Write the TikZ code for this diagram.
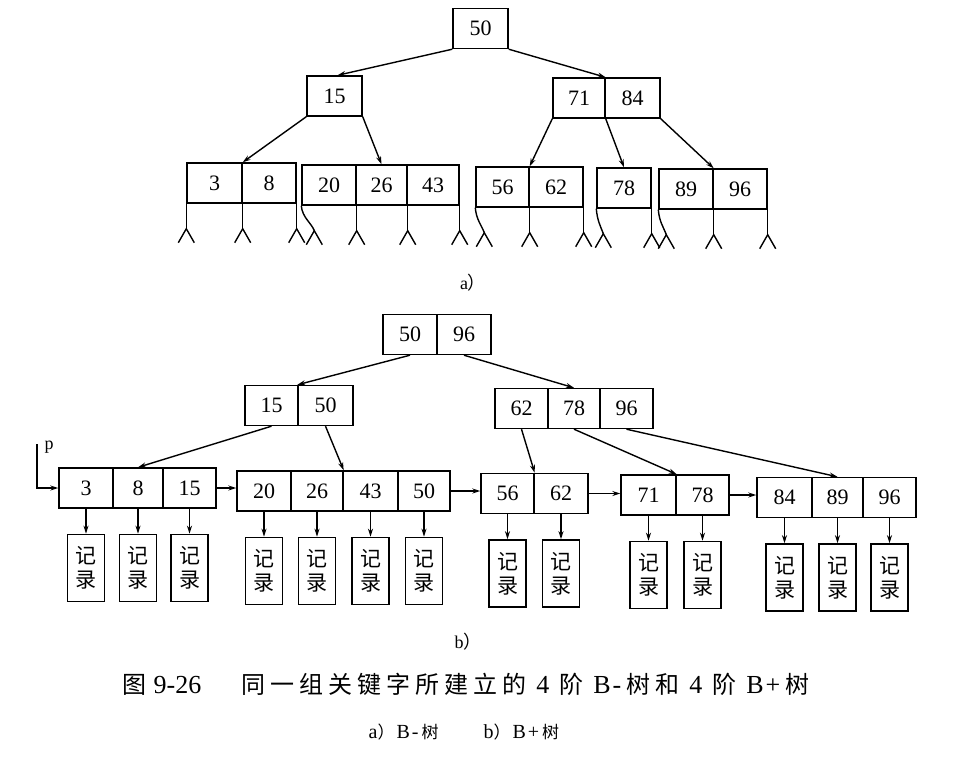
\documentclass[tikz,border=0pt]{standalone}
\usepackage{fontspec}
\setmainfont{Liberation Serif}
\newfontfamily\cjk{Noto Sans CJK SC}
\usetikzlibrary{arrows.meta,positioning,calc}
\newcommand\mynumfont{\fontsize{22}{22}\selectfont}
\newcommand\ks{\kern5pt}
\newcommand\gk{\kern10pt}
\newcommand\capcjk{\cjk\fontsize{24}{26}\selectfont}
\newcommand\subcjk{\cjk\fontsize{17}{19}\selectfont}
\begin{document}
\begin{tikzpicture}[x=1pt,y=-1pt,line width=1.4pt,
  cell/.style={draw,inner sep=0pt,minimum height=40pt,minimum width=#1,font=\mynumfont},
  rec/.style={draw,inner sep=0pt,minimum width=37pt,minimum height=67pt,align=center,
    font=\cjk\fontsize{21}{24}\selectfont},
  arr/.style={-{Stealth[length=8pt,width=5pt]}},
  fork/.pic={\draw (-8,14) -- (0,0) -- (8,14);},
  lbl/.style={font=\fontsize{18}{18}\selectfont}]
\useasboundingbox (0,0) rectangle (980,761);

% ---------------- part a ----------------
\node[cell=55pt] (a50) at (480.5,28.5) {50};
\node[cell=55pt] (a15) at (334.5,96) {15};
\node[cell=52pt] (a71) at (579,98) {71};
\node[cell=55pt] (a84) at (632.5,98) {84};

\node[cell=55pt] (A3) at (214.5,183) {3};
\node[cell=54pt] (A8) at (269,183) {8};
\node[cell=54pt] (B20) at (329,185) {20};
\node[cell=51pt] (B26) at (381.5,185) {26};
\node[cell=52pt] (B43) at (433,185) {43};
\node[cell=53pt] (C56) at (502.5,187) {56};
\node[cell=54pt] (C62) at (556,187) {62};
\node[cell=54pt] (D78) at (624,188) {78};
\node[cell=54pt] (E89) at (686,189) {89};
\node[cell=54pt] (E96) at (740,189) {96};

\draw[arr] (a50.south west) -- ($(a15.north)+(3,0)$);
\draw[arr] (a50.south east) -- (a71.north east);
\draw[arr] (a15.south west) -- (A3.north east);
\draw[arr] (a15.south east) -- (B26.north);
\draw[arr] (a71.south west) -- (C56.north east);
\draw[arr] (a71.south east) -- (D78.north);
\draw[arr] (a84.south east) -- (E89.north east);

% straight pointers with forks
\foreach \p in {A3.south west,A3.south east,A8.south east,
                B20.south east,B26.south east,B43.south east,
                C56.south east,C62.south east,
                D78.south east,
                E89.south east,E96.south east}{
  \draw (\p) -- ++(0,25) pic{fork};
}
% curved left pointers with forks
\foreach \n/\dx in {B20/13,C56/9,D78/7,E89/8}{
  \coordinate (t) at (\n.south west);
  \coordinate (h) at ($(t)+(\dx,25)$);
  \draw (t) .. controls ($(t)+(1,12)$) and ($(h)+(-3,-8)$) .. (h) pic{fork};
}
\node[lbl] (la) at (473,283) {a{\cjk ）}};

% ---------------- part b ----------------
\node[cell=54pt] (R50) at (410,334.5) {50};
\node[cell=54pt] (R96) at (464,334.5) {96};
\node[cell=53pt] (P15) at (271.5,405.5) {15};
\node[cell=55pt] (P50) at (325.5,405.5) {50};
\node[cell=53pt] (Q62) at (521.5,408.5) {62};
\node[cell=52pt] (Q78) at (574,408.5) {78};
\node[cell=53pt] (Q96) at (626.5,408.5) {96};

\node[cell=54pt] (L3) at (86,488) {3};
\node[cell=50pt] (L8) at (138,488) {8};
\node[cell=53pt] (L15) at (189.5,488) {15};
\node[cell=54pt] (L20) at (264,491) {20};
\node[cell=52pt] (L26) at (317,491) {26};
\node[cell=55pt] (L43) at (370.5,491) {43};
\node[cell=52pt] (L50) at (424,491) {50};
\node[cell=53pt] (L56) at (507.5,493.5) {56};
\node[cell=54pt] (L62) at (561,493.5) {62};
\node[cell=55pt] (L71) at (648.5,495) {71};
\node[cell=53pt] (L78) at (702.5,495) {78};
\node[cell=55pt] (L84) at (784.5,497.5) {84};
\node[cell=51pt] (L89) at (837.5,497.5) {89};
\node[cell=53pt] (L96) at (889.5,497.5) {96};

\draw[arr] (R50.south) -- (P50.north west);
\draw[arr] (R96.south) -- (Q78.north);
\draw[arr] (P15.south) -- (L8.north);
\draw[arr] (P50.south) -- (L26.north east);
\draw[arr] (Q62.south) -- (L56.north east);
\draw[arr] (Q78.south) -- (L71.north east);
\draw[arr] (Q96.south) -- (L89.north);

\draw[arr] (L15.east) -- (L20.west |- L15.east);
\draw[arr] (L50.east) -- (L56.west |- L50.east);
\draw[arr] (L62.east) -- (L71.west |- L62.east);
\draw[arr] (L78.east) -- (L84.west |- L78.east);

\node[font=\fontsize{18}{18}\selectfont] (plbl) at (49,447) {p};
\coordinate (ptop) at (37,444);
\draw[arr] (ptop) |- (L3.west);

\foreach \k in {3,8,15,20,26,43,50,56,62,71,78,84,89,96}{
  \node[rec,below=25pt of L\k] (rec\k) {记\\录};
  \draw[arr] (L\k.south) -- (rec\k.north);
}
\node[lbl] (lb) at (468,642) {b{\cjk ）}};

% ---------------- captions ----------------
\node[inner sep=0pt,anchor=west,font=\fontsize{26}{28}\selectfont] (cap) at (122,684)
  {{\capcjk 图}\kern7pt 9-26\kern40pt%
   {\capcjk 同\ks 一\ks 组\ks 关\ks 键\ks 字\ks 所\ks 建\ks 立\ks 的}\gk
   4\gk{\capcjk 阶}\gk B\kern2pt-\kern5pt{\capcjk 树\ks 和}\gk
   4\gk{\capcjk 阶}\gk B\kern2pt+\kern5pt{\capcjk 树}};
\node[inner sep=0pt,anchor=west,font=\fontsize{20}{22}\selectfont] (subcap) at (368,732)
  {a{\subcjk ）}\kern2pt B\kern2pt-\kern3pt{\subcjk 树}\kern45pt
   b{\subcjk ）}\kern2pt B\kern2pt+\kern3pt{\subcjk 树}};
\end{tikzpicture}
\end{document}
